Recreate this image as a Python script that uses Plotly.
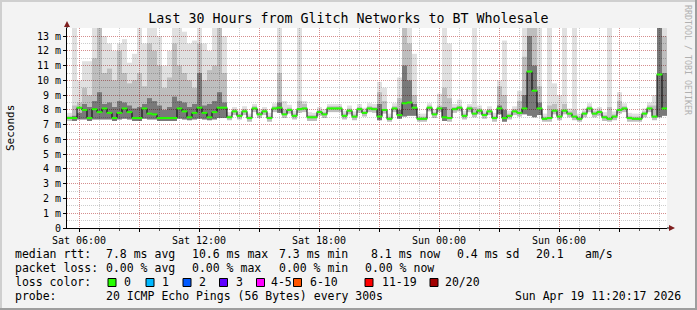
import pandas as pd
import plotly.graph_objects as go

# ---------------- data ----------------
chart_title = "Last 30 Hours from Glitch Networks to BT Wholesale"
range_start = "2026-04-18 05:24:00"
range_end = "2026-04-19 11:24:00"
bin_minutes = 15

# median round trip time per 15-minute bin (ms)
median_ms = [
    7.45, 7.45, 8.15, 8.00, 7.45, 8.05, 7.85, 8.10, 7.80, 7.45,
    7.80, 8.10, 7.85, 7.45, 7.45, 8.10, 7.75, 7.70, 7.45, 7.45,
    7.45, 7.45, 8.10, 7.90, 7.50, 7.80, 8.15, 7.80, 7.50, 7.85,
    8.15, 8.15, 7.50, 7.90, 7.60, 7.90, 7.45, 8.10, 7.70, 7.90,
    7.45, 8.10, 8.15, 7.70, 8.00, 7.60, 8.05, 8.10, 7.50, 7.50,
    7.85, 7.70, 8.10, 8.10, 8.10, 7.60, 7.95, 7.55, 8.05, 7.80,
    8.10, 8.05, 7.55, 8.00, 7.40, 8.10, 7.65, 8.45, 8.50, 8.15,
    7.40, 7.40, 8.15, 7.70, 8.10, 7.50, 7.45, 8.05, 8.15, 7.60,
    8.10, 7.75, 7.95, 7.65, 7.90, 7.45, 8.10, 7.45, 7.60, 7.90,
    7.80, 8.10, 10.60, 9.30, 8.10, 7.40, 7.45, 7.95, 7.55, 7.95,
    7.75, 7.55, 7.40, 7.75, 8.10, 7.75, 7.85, 7.50, 7.40, 7.55,
    8.00, 8.10, 7.45, 7.40, 7.40, 7.75, 8.10, 7.55, 10.40, 8.10,
]

# smoke: lowest ping per bin (ms)
smoke_lo = [
    7.25, 7.25, 7.35, 7.35, 7.25, 7.35, 7.35, 7.35, 7.35, 7.25,
    7.35, 7.40, 7.35, 7.25, 7.25, 7.40, 7.35, 7.35, 7.25, 7.25,
    7.25, 7.25, 7.40, 7.35, 7.30, 7.35, 7.40, 7.35, 7.30, 7.35,
    7.45, 7.45, 7.30, 7.65, 7.35, 7.65, 7.20, 7.85, 7.45, 7.65,
    7.20, 7.85, 7.80, 7.45, 7.75, 7.35, 7.80, 7.85, 7.25, 7.25,
    7.60, 7.45, 7.85, 7.85, 7.85, 7.35, 7.70, 7.30, 7.80, 7.55,
    7.85, 7.80, 7.30, 7.75, 7.20, 7.85, 7.40, 7.55, 7.60, 7.60,
    7.20, 7.20, 7.90, 7.45, 7.85, 7.25, 7.20, 7.80, 7.90, 7.35,
    7.85, 7.50, 7.70, 7.40, 7.65, 7.20, 7.70, 7.20, 7.35, 7.65,
    7.55, 7.70, 7.60, 7.50, 7.65, 7.20, 7.20, 7.70, 7.30, 7.70,
    7.50, 7.30, 7.20, 7.50, 7.85, 7.50, 7.60, 7.25, 7.20, 7.30,
    7.75, 7.85, 7.20, 7.20, 7.20, 7.50, 7.85, 7.30, 7.50, 7.60,
]

# smoke: highest ping per bin (ms), light grey
smoke_hi = [
    7.80, 13.6, 10.0, 11.3, 11.3, 13.6, 13.6, 13.0, 12.5, 12.0,
    12.5, 12.8, 11.2, 11.8, 13.6, 12.5, 13.6, 13.6, 13.0, 11.0,
    12.0, 13.6, 13.6, 13.3, 12.5, 12.7, 13.6, 12.5, 12.0, 13.6,
    13.6, 13.0, 7.85, 8.20, 7.95, 8.25, 7.75, 8.40, 8.05, 8.20,
    7.80, 8.45, 13.6, 8.60, 8.35, 7.95, 13.6, 8.60, 7.85, 7.80,
    8.20, 8.05, 8.40, 8.40, 8.40, 7.95, 8.30, 7.90, 8.40, 8.15,
    8.45, 8.40, 9.90, 9.50, 7.75, 8.45, 10.2, 13.6, 13.6, 11.8,
    7.75, 7.75, 8.45, 8.05, 9.10, 13.6, 12.5, 8.40, 8.70, 7.95,
    8.40, 13.6, 8.30, 8.00, 8.25, 7.80, 10.0, 12.7, 7.95, 8.25,
    9.30, 13.6, 13.6, 13.6, 13.6, 7.75, 13.6, 9.80, 9.00, 13.6,
    8.10, 13.6, 7.75, 8.10, 8.45, 8.10, 8.20, 7.85, 13.6, 7.90,
    9.20, 8.45, 7.80, 7.75, 7.75, 8.10, 8.50, 9.00, 13.6, 13.6,
]

# smoke: upper edge of the denser (mid grey) pings per bin (ms)
smoke_mid = [
    7.60, 8.30, 8.50, 9.50, 9.00, 11.5, 13.6, 10.5, 10.8, 10.0,
    12.0, 10.5, 9.80, 10.0, 10.5, 9.60, 12.5, 12.0, 11.0, 9.50,
    10.2, 12.5, 11.0, 10.5, 10.0, 9.50, 12.5, 10.0, 10.7, 11.0,
    13.6, 10.5, 7.65, 8.05, 7.75, 8.05, 7.60, 8.25, 7.85, 8.05,
    7.60, 8.25, 10.5, 8.00, 8.15, 7.75, 8.60, 8.40, 7.65, 7.65,
    8.00, 7.85, 8.25, 8.25, 8.25, 7.75, 8.10, 7.70, 8.20, 7.95,
    8.25, 8.20, 9.20, 8.60, 7.55, 8.25, 8.80, 13.6, 12.5, 9.00,
    7.55, 7.55, 8.30, 7.85, 8.30, 9.50, 8.80, 8.20, 8.30, 7.75,
    8.25, 8.20, 8.10, 7.80, 8.05, 7.60, 9.60, 9.00, 7.75, 8.05,
    8.60, 11.6, 13.6, 13.6, 9.60, 7.55, 8.30, 8.40, 8.00, 8.40,
    7.90, 8.00, 7.55, 7.90, 8.25, 7.90, 8.00, 7.65, 8.20, 7.70,
    8.60, 8.25, 7.60, 7.55, 7.55, 7.90, 8.30, 8.30, 13.6, 13.0,
]

# smoke: upper edge of the densest (dark) pings per bin (ms), None = none
smoke_dark = [
    None, 7.60, 7.80, 8.40, 8.20, 8.60, 9.20, 8.40, 8.50, 8.20,
    8.60, 8.50, 8.30, 8.10, 8.20, 8.40, 8.80, 8.60, 8.30, 8.00,
    8.20, 8.90, 8.60, 8.50, 8.20, 8.40, 10.5, 8.30, 8.40, 8.60,
    9.20, 8.50, None, None, None, None, None, None, None, None,
    None, None, 8.50, None, None, None, None, None, None, None,
    None, None, None, None, None, None, None, None, None, None,
    None, None, 8.40, None, None, None, 8.00, 11.0, 10.0, 8.40,
    None, None, None, None, None, 8.20, None, None, None, None,
    None, None, None, None, None, None, 8.30, 8.00, None, None,
    None, 9.00, 13.0, 11.0, 8.50, None, None, None, None, None,
    None, None, None, None, None, None, None, None, None, None,
    None, None, None, None, None, None, None, None, 13.6, 10.5,
]

y_tick_vals = list(range(0, 14))
y_tick_text = ["0"] + [f"{v} m" for v in range(1, 14)]
x_tick_vals = ["2026-04-18 06:00", "2026-04-18 09:00", "2026-04-18 12:00",
               "2026-04-18 15:00", "2026-04-18 18:00", "2026-04-18 21:00",
               "2026-04-19 00:00", "2026-04-19 03:00", "2026-04-19 06:00",
               "2026-04-19 09:00"]
x_tick_text = ["Sat 06:00", "", "Sat 12:00", "", "Sat 18:00", "",
               "Sun 00:00", "", "Sun 06:00", ""]

legend_rows = [
    ("median rtt:", ["7.8 ms avg", "10.6 ms max", "7.3 ms min", "8.1 ms now",
                     "0.4 ms sd", "20.1", "am/s"]),
    ("packet loss:", ["0.00 % avg", "0.00 % max", "0.00 % min", "0.00 % now"]),
]
loss_labels = ["0", "1", "2", "3", "4-5", "6-10", "11-19", "20/20"]
loss_colors = ["#26ff00", "#00b8ff", "#0059ff", "#5e00ff", "#ff00ff",
               "#ff5500", "#ff0000", "#a10000"]
probe_text = "20 ICMP Echo Pings (56 Bytes) every 300s"
stamp_text = "Sun Apr 19 11:20:17 2026"
watermark = "RRDTOOL / TOBI OETIKER"

# ---------------- layout geometry (pixels) ----------------
W, H = 697, 310
PL, PR, PT, PB = 67, 667, 28, 228
MONO = "DejaVu Sans Mono"


def fx(x):
    return (x - PL) / (PR - PL)


def fy(y):
    return (PB - y) / (PB - PT)


bin_starts = pd.date_range(range_start, periods=len(median_ms), freq=f"{bin_minutes}min")
bin_centers = bin_starts + pd.Timedelta(minutes=bin_minutes / 2)
bin_width_ms = bin_minutes * 60 * 1000

fig = go.Figure()


def smoke_layer(top, color):
    xs, bases, heights = [], [], []
    for c, lo, t in zip(bin_centers, smoke_lo, top):
        if t is None:
            continue
        xs.append(c)
        bases.append(lo)
        heights.append(t - lo)
    fig.add_trace(go.Bar(x=xs, y=heights, base=bases, width=bin_width_ms,
                         marker=dict(color=color, line=dict(width=0)),
                         showlegend=False, hoverinfo="skip"))


smoke_layer(smoke_hi, "rgba(0,0,0,0.12)")
smoke_layer(smoke_mid, "rgba(0,0,0,0.15)")
smoke_layer(smoke_dark, "rgba(0,0,0,0.36)")

step_x = list(bin_starts) + [pd.Timestamp(range_end)]
step_y = list(median_ms) + [median_ms[-1]]
fig.add_trace(go.Scatter(x=step_x, y=step_y, mode="lines", line_shape="hv",
                         line=dict(color="#000000", width=1),
                         showlegend=False, hoverinfo="skip"))
fig.add_trace(go.Scatter(x=bin_centers, y=median_ms, mode="markers",
                         marker=dict(symbol="line-ew", size=4,
                                     line=dict(color="#26ff00", width=2)),
                         showlegend=False, hoverinfo="skip"))

MGRID = "rgba(222,80,80,0.5)"
GRID = "rgba(143,143,143,0.45)"

fig.update_layout(
    width=W, height=H,
    margin=dict(l=PL, r=W - PR, t=PT, b=H - PB, pad=0),
    paper_bgcolor="#f3f3f3", plot_bgcolor="#ffffff",
    barmode="overlay", hovermode=False, showlegend=False,
    font=dict(family=MONO, color="#000000", size=10),
    title=dict(text=chart_title, x=0.5, xref="container", xanchor="center",
               y=1 - 18 / H, yref="container", yanchor="middle",
               font=dict(family=MONO, size=13.3, color="#000000")),
    xaxis=dict(type="date", range=[range_start, range_end],
               tickmode="array", tickvals=x_tick_vals, ticktext=x_tick_text,
               showgrid=True, gridcolor=MGRID, griddash="1px,1px", gridwidth=1,
               showline=True, linecolor="#000000", linewidth=1,
               ticks="outside", ticklen=3, tickcolor="#000000",
               tickfont=dict(family=MONO, size=10), zeroline=False,
               layer="above traces",
               minor=dict(tickmode="linear", tick0="2026-04-18 06:00",
                          dtick=3600000, showgrid=True, gridcolor=GRID,
                          griddash="1px,1px", ticks="outside", ticklen=2,
                          tickcolor="#555555")),
    yaxis=dict(range=[0, 13.55], tickmode="array", tickvals=y_tick_vals,
               ticktext=y_tick_text,
               showgrid=True, gridcolor=MGRID, griddash="1px,1px", gridwidth=1,
               showline=True, linecolor="#000000", linewidth=1,
               ticks="outside", ticklen=3, tickcolor="#000000",
               tickfont=dict(family=MONO, size=10), zeroline=False,
               layer="above traces",
               minor=dict(tickmode="linear", tick0=0, dtick=0.5, showgrid=True,
                          gridcolor=GRID, griddash="1px,1px")),
)

ann = []
shapes = []


def text(x, y, s, anchor="left", size=11.5, color="#000000", angle=0):
    ann.append(dict(x=fx(x), y=fy(y), xref="paper", yref="paper", text=s,
                    showarrow=False, xanchor=anchor, yanchor="middle",
                    textangle=angle, borderpad=0, borderwidth=0,
                    font=dict(family=MONO, size=size, color=color)))


# y axis unit title and watermark
text(10, 128, "Seconds", anchor="center", size=11, angle=-90)
text(688, 60, watermark, anchor="center", size=8.3, color="#b0b0b0", angle=90)

# legend rows
value_x = [106, 192, 279, 371, 457, 536, 585]
loss_value_x = [106, 192, 279, 365]
text(15, 254, legend_rows[0][0])
for x, s in zip(value_x, legend_rows[0][1]):
    text(x, 254, s)
text(15, 268, legend_rows[1][0])
for x, s in zip(loss_value_x, legend_rows[1][1]):
    text(x, 268, s)
text(15, 282, "loss color:")
box_x = [108, 146, 183, 219.5, 256.5, 293.5, 365, 430]
label_x = [123.5, 161.5, 198.5, 235.5, 270.5, 309.5, 381.5, 444.5]
for bx, lx, lab, col in zip(box_x, label_x, loss_labels, loss_colors):
    shapes.append(dict(type="rect", xref="paper", yref="paper",
                       x0=fx(bx), x1=fx(bx + 8), y0=fy(278.5), y1=fy(286.5),
                       fillcolor=col, line=dict(color="#000000", width=1)))
    text(lx, 282, lab)
text(15, 296, "probe:")
text(106, 296, probe_text)
text(681, 296, stamp_text, anchor="right")

# frame (shade) around the image
for (x0, y0, x1, y1, c) in [(0, 0, W, 2, "#cfcfcf"), (0, 0, 2, H, "#cfcfcf"),
                            (0, H - 2, W, H, "#9e9e9e"), (W - 2, 0, W, H, "#9e9e9e")]:
    shapes.append(dict(type="rect", xref="paper", yref="paper",
                       x0=fx(x0), x1=fx(x1), y0=fy(y0), y1=fy(y1),
                       fillcolor=c, line=dict(width=0), layer="above"))

# axis arrows
ARROW = "#7f1f1f"
shapes.append(dict(type="line", xref="paper", yref="paper", x0=fx(67), x1=fx(67),
                   y0=fy(28), y1=fy(25), line=dict(color="#000000", width=1)))
shapes.append(dict(type="path", xref="paper", yref="paper",
                   path=f"M {fx(67)},{fy(21)} L {fx(64)},{fy(27)} L {fx(70)},{fy(27)} Z",
                   fillcolor=ARROW, line=dict(width=0)))
shapes.append(dict(type="line", xref="paper", yref="paper", x0=fx(667), x1=fx(670),
                   y0=fy(228), y1=fy(228), line=dict(color="#000000", width=1)))
shapes.append(dict(type="path", xref="paper", yref="paper",
                   path=f"M {fx(675)},{fy(228)} L {fx(669)},{fy(225)} L {fx(669)},{fy(231)} Z",
                   fillcolor=ARROW, line=dict(width=0)))

fig.update_layout(annotations=ann, shapes=shapes)
fig.write_html("out.html")
